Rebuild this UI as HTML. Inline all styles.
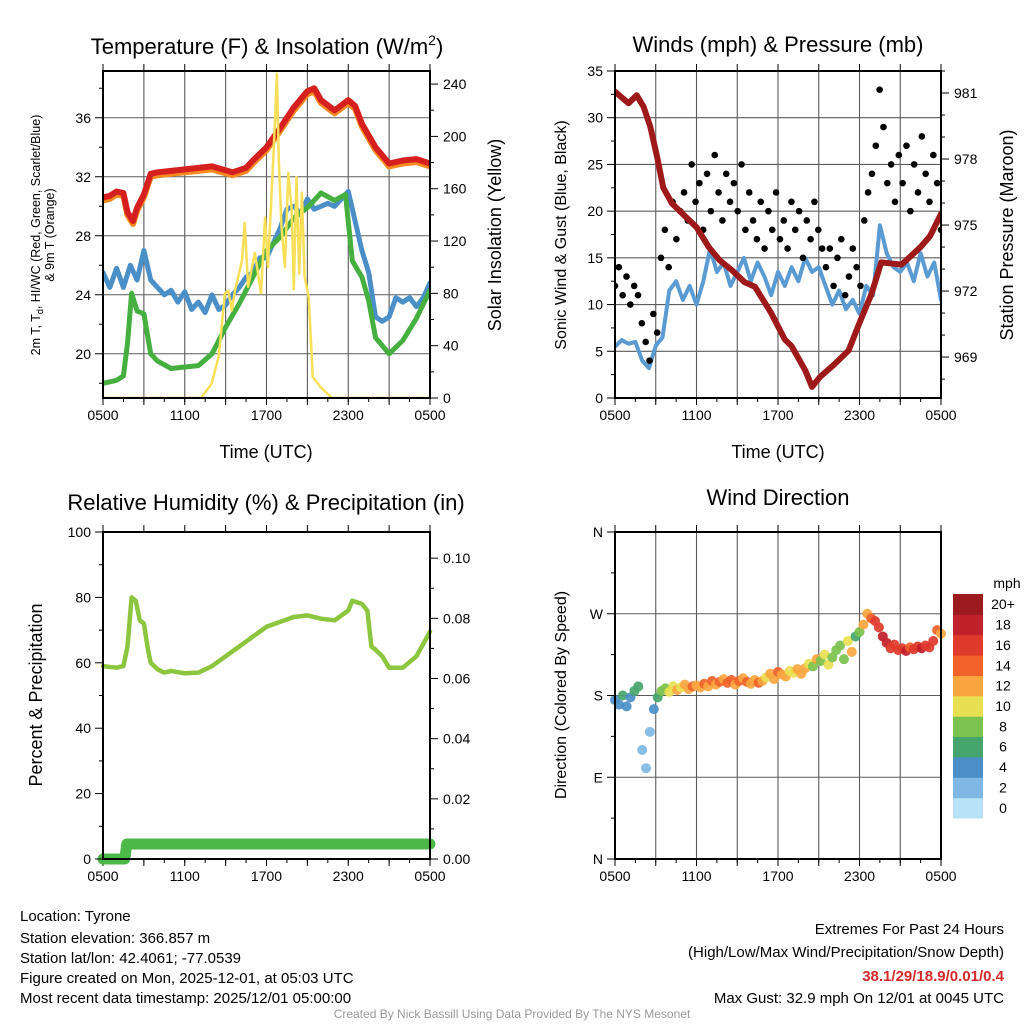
<!DOCTYPE html>
<html><head><meta charset="utf-8"><style>
html,body{margin:0;padding:0;background:#fff;}
svg{display:block;font-family:"Liberation Sans",sans-serif;}
</style></head><body>
<svg id="fig" width="1024" height="1024" viewBox="0 0 1024 1024">
<g id="static" fill="#000">
<text x="267" y="54" font-size="22" text-anchor="middle">Temperature (F) &amp; Insolation (W/m<tspan font-size="14" dy="-9">2</tspan><tspan dy="9">)</tspan></text>
<text x="778" y="52" font-size="22" text-anchor="middle">Winds (mph) &amp; Pressure (mb)</text>
<text x="266" y="510" font-size="22" text-anchor="middle">Relative Humidity (%) &amp; Precipitation (in)</text>
<text x="778" y="505" font-size="22" text-anchor="middle">Wind Direction</text>
<text x="266" y="458" font-size="18" text-anchor="middle">Time (UTC)</text>
<text x="778" y="458" font-size="18" text-anchor="middle">Time (UTC)</text>
<g transform="translate(40,235) rotate(-90)" font-size="12.5" text-anchor="middle">
<text x="0" y="0">2m T, T<tspan font-size="9" dy="3">d</tspan><tspan dy="-3">, HI/WC (Red, Green, Scarlet/Blue)</tspan></text>
<text x="0" y="14">&amp; 9m T (Orange)</text></g>
<text transform="translate(501,235) rotate(-90)" font-size="18" text-anchor="middle">Solar Insolation (Yellow)</text>
<text transform="translate(566,235) rotate(-90)" font-size="16" text-anchor="middle">Sonic Wind &amp; Gust (Blue, Black)</text>
<text transform="translate(1013,235) rotate(-90)" font-size="18" text-anchor="middle">Station Pressure (Maroon)</text>
<text transform="translate(42,695) rotate(-90)" font-size="18" text-anchor="middle">Percent &amp; Precipitation</text>
<text transform="translate(566,695) rotate(-90)" font-size="16" text-anchor="middle">Direction (Colored By Speed)</text>
<text x="1007" y="588" font-size="14" text-anchor="middle">mph</text>
<g font-size="15">
<text x="20" y="921">Location: Tyrone</text>
<text x="20" y="943">Station elevation: 366.857 m</text>
<text x="20" y="963">Station lat/lon: 42.4061; -77.0539</text>
<text x="20" y="983">Figure created on Mon, 2025-12-01, at 05:03 UTC</text>
<text x="20" y="1003">Most recent data timestamp: 2025/12/01 05:00:00</text>
</g>
<g font-size="15" text-anchor="end">
<text x="1004" y="934">Extremes For Past 24 Hours</text>
<text x="1004" y="957">(High/Low/Max Wind/Precipitation/Snow Depth)</text>
<text x="1004" y="981" fill="#d42a2a" font-weight="bold">38.1/29/18.9/0.01/0.4</text>
<text x="1004" y="1003">Max Gust: 32.9 mph On 12/01 at 0045 UTC</text>
</g>
<text x="512" y="1018" font-size="12" fill="#999" text-anchor="middle">Created By Nick Bassill Using Data Provided By The NYS Mesonet</text>
</g>
<g id="charts"></g>
</svg>
<script>
// ---- data (time in hours after 0500 UTC) ----
const xTickLabels = ["0500","1100","1700","2300","0500"];
const tempTimes = [0,0.5,1,1.5,1.8,2.2,2.5,3,3.5,4,5,6,7,8,9.5,10.5,11,12,13,14,15,15.5,16,17,18,18.5,19,20,21,22,23,24];
const tempVals  = [30.6,30.7,31.0,30.9,29.6,29.0,29.9,30.8,32.2,32.3,32.4,32.5,32.6,32.7,32.3,32.6,33.1,34.0,35.3,36.7,37.8,38.0,37.2,36.5,37.2,36.8,35.6,34.0,32.9,33.1,33.2,32.9];
const temp9mVals = [30.4,30.5,30.8,30.7,29.4,28.8,29.7,30.6,32.0,32.1,32.2,32.3,32.4,32.5,32.1,32.4,32.9,33.8,35.1,36.5,37.6,37.8,37.0,36.3,37.0,36.6,35.4,33.8,32.7,32.9,33.0,32.7];
const dewTimes = [0,1,1.5,1.8,2.1,2.5,3,3.5,4,5,6,7,8,9,10,11,12,13,14,15,16,17,17.8,18.3,19,19.5,20,21,22,23,24];
const dewVals  = [18.0,18.2,18.5,20.7,24.1,22.9,22.7,20.0,19.5,19.0,19.1,19.2,20.0,21.8,23.4,25.2,27.0,27.9,29.2,29.9,30.9,30.4,30.8,26.3,25.2,23.6,21.1,20.0,20.9,22.4,24.3];
const chillVals = [25.5,24.5,25.8,24.5,26,25,27,25,24.5,24,24.3,23.5,24.2,23,23.5,22.8,24,23,23.3,24,24.5,25.2,25.5,26.5,26.5,27.5,28.5,29.8,30,29.5,30.5,29.8,30,30.2,30,30.5,31,29,27,25.5,22.5,22.2,22.5,23.8,23.5,23.8,23.2,23.8,24.8];
const solarTimes = [0,7.2,7.97,8.5,8.95,9.2,9.45,9.7,10.2,10.4,10.65,11.15,11.6,11.9,12.1,12.35,12.6,12.76,12.9,13.1,13.35,13.6,13.85,14.0,14.2,14.4,14.6,14.8,15.1,15.4,16,16.8,24];
const solarVals  = [0,0,11,32,80,82,67,83,105,134,85,111,80,138,100,151,207,248,182,131,100,172,144,83,169,95,157,93,77,16,8,0,0];
const sonicVals = [5.5,6.2,5.8,6.0,4.0,3.2,5.6,6.5,11.5,12.5,10.5,12,10,12.5,16,13.5,14.5,12,13.5,15,12.5,14.5,13,11,13.5,12,14,12.5,15,13.5,14,12,10,11.5,9.5,10.5,9,12,11,18.5,15.5,14,13.5,14.5,12.5,15.5,13,14.5,10.5];
const gustVals = [12,14,11,13,10,12,11, 8,6,4,9,7, 15,18,14,21,17,20,
 22,19,25,21,23,18,24,20,26,22,19,24,21,23,20,25,18,22,
 19,17,21,16,20,18,22,17,19,16,21,18,20,15,19,17,21,18,16,
 14,16,12,15,17,11,13,16,14,12, 19,22,24,27,33,29,23,25,21,26,
 23,27,20,25,22,28,24,21,26,23,18];
const presTimes = [0,1.0,1.6,2.1,2.6,3.1,3.55,4.2,5.15,6.0,6.9,7.7,8.6,9.55,10.3,11.5,12.5,13.0,14.0,14.5,15.1,16.2,17.2,17.9,18.9,19.6,21.1,22.5,23.2,24];
const presVals  = [981.06,980.53,980.9,980.38,979.47,978.1,976.7,975.98,975.4,974.9,974.0,973.4,972.95,972.4,972.2,971.0,969.8,969.5,968.4,967.65,968.1,968.7,969.3,970.4,971.9,973.3,973.2,974.0,974.5,975.5];
const rhTimes = [0,1,1.5,1.8,2.1,2.4,2.7,3,3.3,3.5,4,4.5,5,6,7,8,9,10,11,12,13,14,15,16,17,18,18.3,19,19.4,19.7,20,20.5,21,22,23,24];
const rhVals  = [59,58.5,59,65,80,79,73,72,64,60,58,57,57.5,56.8,57,59,62,65,68,71,72.5,74,74.5,73.5,73,76,79,78,76,65,64,62,58.5,58.5,62,69.5];
const precipTimes = [0,1.6,1.75,24];
const precipVals  = [0,0,0.005,0.005];
const dirVals = [175,170,180,168,178,185,190, 120,100,140, 165,178,
 185,188,184,190,186,189,192,187,190,191,189,
 193,190,196,192,195,198,194,197,192,196,199,195,193,197,194,196,
 200,204,198,206,203,201,207,205,209,204,
 210,215,212,220,218,225,214,222,230,
 235,220,240,228, 245,250,258, 270,265,262,
 255,245,238,232,236,
 230,232,229,233,231,234,232,235,233,
 240,252,248];
const dirSpeeds = [4,5,6,5,4,6,7, 2,2,3, 4,6,
 8,9,10,11,12,10,13,12,14,13,12,
 14,13,15,12,14,13,15,14,12,15,13,14,12,13,14,12,
 11,13,12,14,12,13,10,11,12,13,
 12,10,9,12,8,10,11,9,8,
 9,8,10,12, 7,9,12, 13,14,16,
 17,18,19,16,17,
 17,16,18,15,17,16,18,16,17,
 16,14,13];
const cbLabels = ["0","2","4","6","8","10","12","14","16","18","20+"];
const cbColors = ["#b8e2f7","#7fb9e3","#4a8fc8","#46a56d","#7cc24e","#e8e053","#f9a640","#f0622a","#e03a2c","#c0202a","#9b1b1e"];

const NS="http://www.w3.org/2000/svg";
const root=document.getElementById('charts');
function el(tag,attrs,parent){const e=document.createElementNS(NS,tag);for(const k in attrs)e.setAttribute(k,attrs[k]);(parent||root).appendChild(e);return e;}
function lin(d0,d1,r0,r1){return v=>r0+(v-d0)*(r1-r0)/(d1-d0);}
function even(n){const a=[];for(let i=0;i<n;i++)a.push(i*24/(n-1));return a;}
function pathD(ts,vs,sx,sy){return ts.map((t,i)=>(i?'L':'M')+sx(t).toFixed(1)+','+sy(vs[i]).toFixed(1)).join('');}
function line(g,ts,vs,sx,sy,color,w,name){
  const p=el('path',{d:pathD(ts,vs,sx,sy),fill:'none',stroke:color,'stroke-width':w,'stroke-linejoin':'round','stroke-linecap':'round'},g);
  
  
  return p;
}
function txt(g,x,y,s,size,anchor){const t=el('text',{x:x,y:y,'font-size':size,'text-anchor':anchor||'middle',fill:'#000'},g);t.textContent=s;return t;}

function panel(name,L,R,T,B,opts){
  const g=el('g',{});
  
  
  const sx=lin(0,24,L,R);
  const grid=el('g',{stroke:'#333','stroke-width':1.1,opacity:0.8},g);
  
  
  if(opts.grid){
    for(let h=3;h<24;h+=3){el('line',{x1:sx(h),x2:sx(h),y1:T,y2:B},grid);}
    opts.hgrid.forEach(y=>el('line',{x1:L,x2:R,y1:y,y2:y},grid));
  }
  const xt=el('g',{stroke:'#000','stroke-width':1},g);
  for(let h=0;h<=24;h+=3){el('line',{x1:sx(h),x2:sx(h),y1:B,y2:B+7},xt);el('line',{x1:sx(h),x2:sx(h),y1:T,y2:T-7},xt);}
  for(let h=0;h<=24;h+=1.5){el('line',{x1:sx(h),x2:sx(h),y1:B,y2:B+4},xt);}
  const xl=el('g',{},g);
  
  
  xTickLabels.forEach((s,i)=>txt(xl,sx(i*6),B+22,s,14));
  return {g,sx};
}
function yAxis(g,x,side,ticks,labels,minor,sy,T,B,name){
  const a=el('g',{},g);
  
  
  const d=side==='left'?-1:1;
  ticks.forEach((v,i)=>{const y=sy(v);el('line',{x1:x,x2:x+d*8,y1:y,y2:y,stroke:'#000','stroke-width':1},a);
    txt(a,x+d*(side==='left'?12:13),y+5,labels[i],14,side==='left'?'end':'start');});
  minor.forEach(v=>{const y=sy(v);if(y>=T-0.5&&y<=B+0.5)el('line',{x1:x,x2:x+d*4,y1:y,y2:y,stroke:'#000','stroke-width':1},a);});
}
function frame(g,L,R,T,B){el('rect',{x:L,y:T,width:R-L,height:B-T,fill:'none',stroke:'#000','stroke-width':2},g);}

// ===== Panel 1: temperature =====
{
 const L=103,R=430,T=71,B=398;
 const syT=lin(17,39.17,B,T), syS=lin(0,250,B,T);
 const tempTicks=[20,24,28,32,36], solarTicks=[0,40,80,120,160,200,240];
 const p=panel('temperature-panel',L,R,T,B,{grid:true,hgrid:tempTicks.map(syT)});
 const clip=el('clipPath',{id:'c1'},p.g);el('rect',{x:L,y:T,width:R-L,height:B-T},clip);
 const d=el('g',{'clip-path':'url(#c1)'},p.g);
 line(d,even(chillVals.length),chillVals,p.sx,syT,'#4a8fc8',5,'wind-chill-line');
 line(d,dewTimes,dewVals,p.sx,syT,'#45b03f',5,'dewpoint-line');
 line(d,tempTimes,temp9mVals,p.sx,syT,'#f58a20',6,'temp-9m-line');
 line(d,tempTimes,tempVals,p.sx,syT,'#d62020',6,'temp-2m-line');
 line(d,solarTimes,solarVals,p.sx,syS,'#f7e058',2.5,'solar-insolation-line');
 frame(p.g,L,R,T,B);
 yAxis(p.g,L,'left',tempTicks,tempTicks.map(String),[18,22,26,30,34,38],syT,T,B,'temperature-y-axis');
 yAxis(p.g,R,'right',solarTicks,solarTicks.map(String),[20,60,100,140,180,220],syS,T,B,'insolation-y-axis');
}
// ===== Panel 2: winds =====
{
 const L=615,R=941,T=71,B=398;
 const syW=lin(0,35,B,T), syP=lin(967.14,982.0,B,T);
 const windTicks=[0,5,10,15,20,25,30,35], presTicks=[969,972,975,978,981];
 const p=panel('winds-panel',L,R,T,B,{grid:true,hgrid:windTicks.map(syW)});
 const clip=el('clipPath',{id:'c2'},p.g);el('rect',{x:L,y:T,width:R-L,height:B-T},clip);
 const d=el('g',{'clip-path':'url(#c2)'},p.g);
 line(d,even(sonicVals.length),sonicVals,p.sx,syW,'#5b9bd3',4,'sonic-wind-line');
 const gt=even(gustVals.length);
 gustVals.forEach((v,i)=>{
   const c=el('circle',{cx:p.sx(gt[i]),cy:syW(v),r:3.3,fill:'#000'},d);
   
   
 });
 line(d,presTimes,presVals,p.sx,syP,'#9e1a1a',6,'pressure-line');
 frame(p.g,L,R,T,B);
 yAxis(p.g,L,'left',windTicks,windTicks.map(String),[2.5,7.5,12.5,17.5,22.5,27.5,32.5],syW,T,B,'wind-y-axis');
 yAxis(p.g,R,'right',presTicks,presTicks.map(String),[968,970,971,973,974,976,977,979,980,982],syP,T,B,'pressure-y-axis');
}
// ===== Panel 3: humidity =====
{
 const L=103,R=430,T=532,B=859;
 const syR=lin(0,100,B,T), syQ=lin(0,0.1087,B,T);
 const rhTicks=[0,20,40,60,80,100], pTicks=[0,0.02,0.04,0.06,0.08,0.10];
 const p=panel('humidity-panel',L,R,T,B,{grid:false});
 line(p.g,precipTimes,precipVals,p.sx,syQ,'#4cb848',11,'precipitation-line');
 line(p.g,rhTimes,rhVals,p.sx,syR,'#8cc63f',4.5,'humidity-line');
 frame(p.g,L,R,T,B);
 yAxis(p.g,L,'left',rhTicks,rhTicks.map(String),[10,30,50,70,90],syR,T,B,'humidity-y-axis');
 yAxis(p.g,R,'right',pTicks,pTicks.map(v=>v.toFixed(2)),[0.01,0.03,0.05,0.07,0.09],syQ,T,B,'precipitation-y-axis');
}
// ===== Panel 4: wind direction =====
{
 const L=615,R=941,T=532,B=859;
 const syD=lin(0,360,B,T);
 const dirTicks=[0,90,180,270,360], dirLabels=["N","E","S","W","N"];
 const p=panel('wind-direction-panel',L,R,T,B,{grid:true,hgrid:dirTicks.map(syD)});
 const dt=even(dirVals.length);
 dirVals.forEach((v,i)=>{
   const bin=Math.min(10,Math.floor(dirSpeeds[i]/2));
   const c=el('circle',{cx:p.sx(dt[i]),cy:syD(v),r:5,fill:cbColors[bin],opacity:0.92},p.g);
   
   
 });
 frame(p.g,L,R,T,B);
 yAxis(p.g,L,'left',dirTicks,dirLabels,[45,135,225,315],syD,T,B,'direction-y-axis');
 const cb=el('g',{},p.g);
 
 
 const h=224/cbColors.length;
 cbColors.forEach((c,i)=>{
   const y=818-(i+1)*h;
   const r=el('rect',{x:953,y:y,width:30,height:h+0.5,fill:c},cb);
   
   
   txt(cb,1003,y+h/2+5,cbLabels[i],14);
 });
}
</script>
</body></html>
